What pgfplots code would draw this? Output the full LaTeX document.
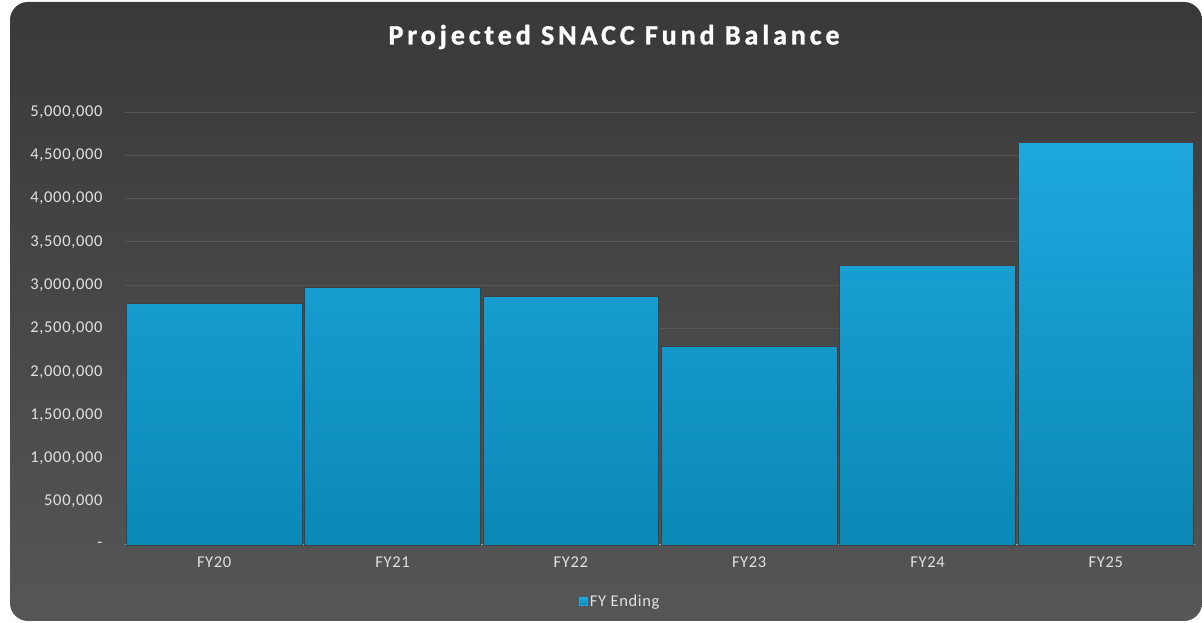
\documentclass[border=0pt]{standalone}
\usepackage{pgfplots}
\pgfplotsset{compat=1.18}
\usepackage{fontspec}
\setmainfont{Carlito}
\newfontfamily\titlefont[LetterSpace=14,BoldFeatures={FakeBold=1.2}]{Carlito}
\newfontfamily\lblfont[LetterSpace=4]{Carlito}
\definecolor{bgtop}{HTML}{393939}
\definecolor{bgbot}{HTML}{565656}
\definecolor{tick}{HTML}{E2E2E2}
\definecolor{gridc}{HTML}{575757}
\definecolor{bartop}{HTML}{1EA8DE}
\definecolor{barbot}{HTML}{0A88B6}
\begin{document}
\begin{tikzpicture}[x=1bp,y=1bp]
\fill[white] (0,0) rectangle (1202,623);
\shade[top color=bgtop,bottom color=bgbot,rounded corners=18bp] (10,2) rectangle (1202,621);
\node[text=white,font=\titlefont\bfseries\fontsize{28bp}{32bp}\selectfont] at (614,586) {Projected SNACC Fund Balance};
\begin{axis}[
  at={(125bp,78bp)}, anchor=south west,
  scale only axis, width=1070bp, height=433bp,
  xmin=-0.5, xmax=5.5, ymin=0, ymax=5000000,
  scaled ticks=false,
  xtick={0,1,2,3,4,5},
  xticklabels={FY20,FY21,FY22,FY23,FY24,FY25},
  ytick={0,500000,1000000,1500000,2000000,2500000,3000000,3500000,4000000,4500000,5000000},
  yticklabels={{-},{500,000},{1,000,000},{1,500,000},{2,000,000},{2,500,000},{3,000,000},{3,500,000},{4,000,000},{4,500,000},{5,000,000}},
  axis lines*=left,
  y axis line style={draw=none},
  x axis line style={draw=gray!70, line width=1bp},
  major tick length=0,
  ymajorgrids, grid style={gridc, line width=0.8bp},
  ticklabel style={text=tick, font=\lblfont\fontsize{16.5bp}{18bp}\selectfont},
  yticklabel style={xshift=-19bp},
  xticklabel style={yshift=-8bp},
  legend style={at={(0.463,-0.13)}, anchor=center, draw=none, fill=none, text=tick, font=\lblfont\fontsize{16.5bp}{18bp}\selectfont},
  legend image code/.code={\fill[bartop] (-2bp,-4bp) rectangle (6bp,4bp);},
  clip=false,
]
\addplot[ybar, bar width=0.985, draw=black!75, line width=0.6bp, top color=bartop, bottom color=barbot]
  coordinates {(0,2790000) (1,2970000) (2,2875000) (3,2300000) (4,3230000) (5,4645000)};
\addlegendentry{FY Ending}
\end{axis}
\end{tikzpicture}
\end{document}
